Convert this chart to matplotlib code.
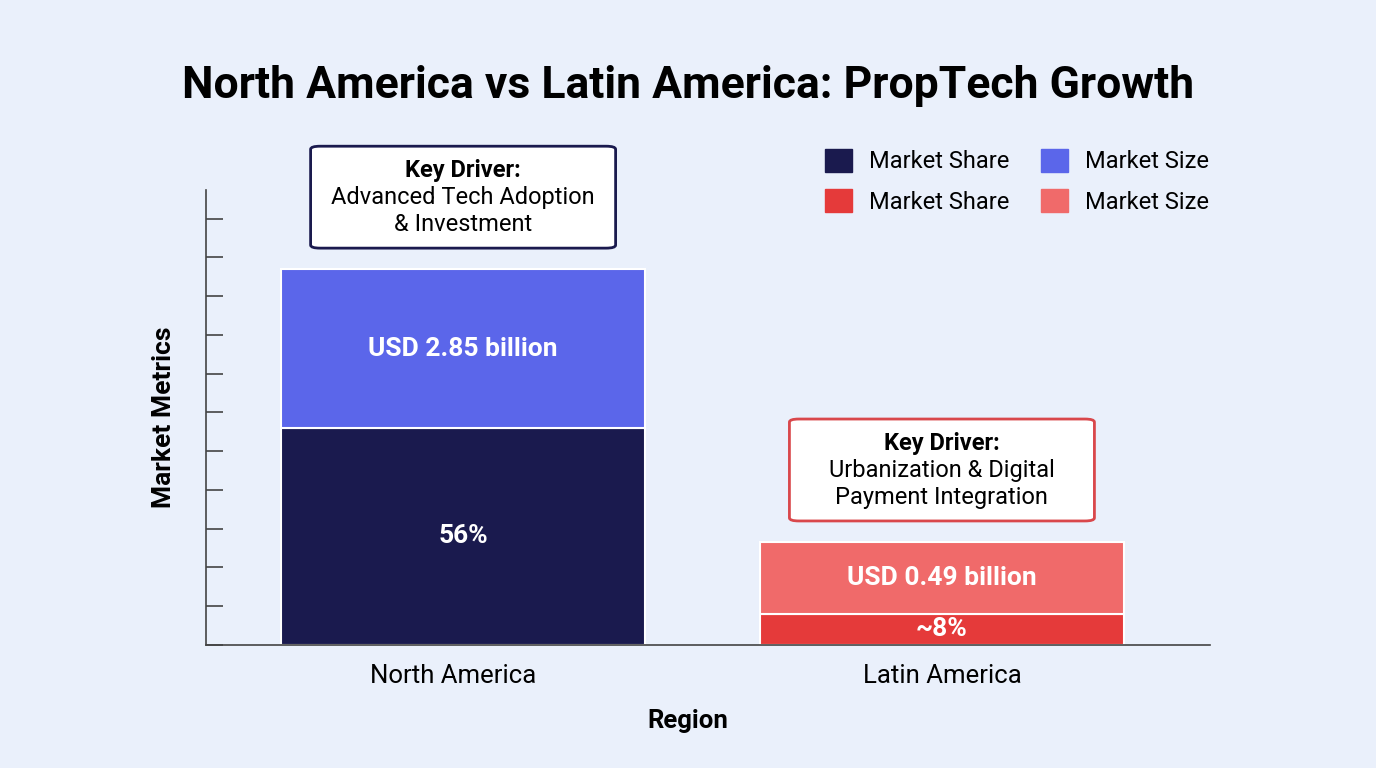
import numpy as np
import matplotlib
matplotlib.use("Agg")
import matplotlib.pyplot as plt
import matplotlib.transforms as mtransforms
from matplotlib.patches import FancyBboxPatch, Patch

plt.rcParams['font.family'] = ['Roboto', 'DejaVu Sans']

regions = ['North America', 'Latin America']
share = [56, 8]
share_labels = ['56%', '~8%']
size_height = [41, 18.6]
size_labels = ['USD 2.85 billion', 'USD 0.49 billion']
drivers = ['Advanced Tech Adoption\n& Investment', 'Urbanization & Digital\nPayment Integration']

share_colors = ['#1a1a4e', '#e53a3a']
size_colors = ['#5b66ea', '#f06a6a']
box_edges = ['#1a1a4e', '#d9474b']
bg = '#eaf0fb'

fig = plt.figure(figsize=(13.76, 7.68), dpi=100, facecolor=bg)
ax = fig.add_axes([0.1497, 0.1602, 0.7297, 0.5924], facecolor=bg)

x = np.arange(len(regions))
w = 0.76
ax.bar(x, share, width=w, color=share_colors, edgecolor='white', linewidth=1.5)
ax.bar(x, size_height, width=w, bottom=share, color=size_colors, edgecolor='white', linewidth=1.5)

for i in range(len(regions)):
    ax.text(x[i], share[i] / 2, share_labels[i], ha='center', va='center',
            color='white', fontsize=19, fontweight='bold')
    ax.text(x[i], share[i] + size_height[i] / 2, size_labels[i], ha='center', va='center',
            color='white', fontsize=19, fontweight='bold')
    top = share[i] + size_height[i]
    y0 = top + 5.4
    bw, bh = 0.637, 26.3
    box = FancyBboxPatch((x[i] - bw / 2, y0), bw, bh,
                         boxstyle='round,pad=0,rounding_size=0.02',
                         mutation_aspect=40, facecolor='white',
                         edgecolor=box_edges[i], linewidth=2, clip_on=False, zorder=3)
    ax.add_patch(box)
    ax.text(x[i], y0 + bh - 6.3, 'Key Driver:', ha='center', va='center',
            fontsize=17, fontweight='bold', color='black', zorder=4, clip_on=False)
    lines = drivers[i].split('\n')
    for k, line in enumerate(lines):
        ax.text(x[i], y0 + bh - 13.3 - 7.0 * k, line, ha='center', va='center',
                fontsize=17, color='black', zorder=4, clip_on=False)

ax.set_xlim(-0.537, 1.56)
ax.set_ylim(0, 117.4)
ax.set_yticks(np.arange(0, 111, 10))
ax.set_yticklabels([])
ax.tick_params(axis='y', direction='in', length=12, color='#444444', width=1.2)
ax.set_xticks(x)
ax.set_xticklabels(regions, fontsize=18.5)
ax.tick_params(axis='x', length=0, pad=14)
# first label sits a little left of its bar in the original
lbl = ax.get_xticklabels()[0]
lbl.set_transform(lbl.get_transform() + mtransforms.ScaledTranslation(-0.1, 0, fig.dpi_scale_trans))
for s in ['top', 'right']:
    ax.spines[s].set_visible(False)
for s in ['left', 'bottom']:
    ax.spines[s].set_color('#444444')
    ax.spines[s].set_linewidth(1.2)

ax.set_xlabel('Region', fontsize=18.5, fontweight='bold')
ax.xaxis.set_label_coords(0.48, -0.141)
ax.set_ylabel('Market Metrics', fontsize=19, fontweight='bold', labelpad=18)

handles = [Patch(color=share_colors[0], label='Market Share'),
           Patch(color=share_colors[1], label='Market Share'),
           Patch(color=size_colors[0], label='Market Size'),
           Patch(color=size_colors[1], label='Market Size')]
fig.legend(handles=handles, ncol=2, loc='upper right', bbox_to_anchor=(0.894, 0.834),
           frameon=False, fontsize=17, handlelength=1.15, handleheight=1.15,
           columnspacing=1.35, labelspacing=0.65, handletextpad=0.7)

fig.suptitle('North America vs Latin America: PropTech Growth', fontsize=32,
             fontweight='bold', y=0.915)

fig.savefig('out.png', dpi=100, facecolor=bg)
